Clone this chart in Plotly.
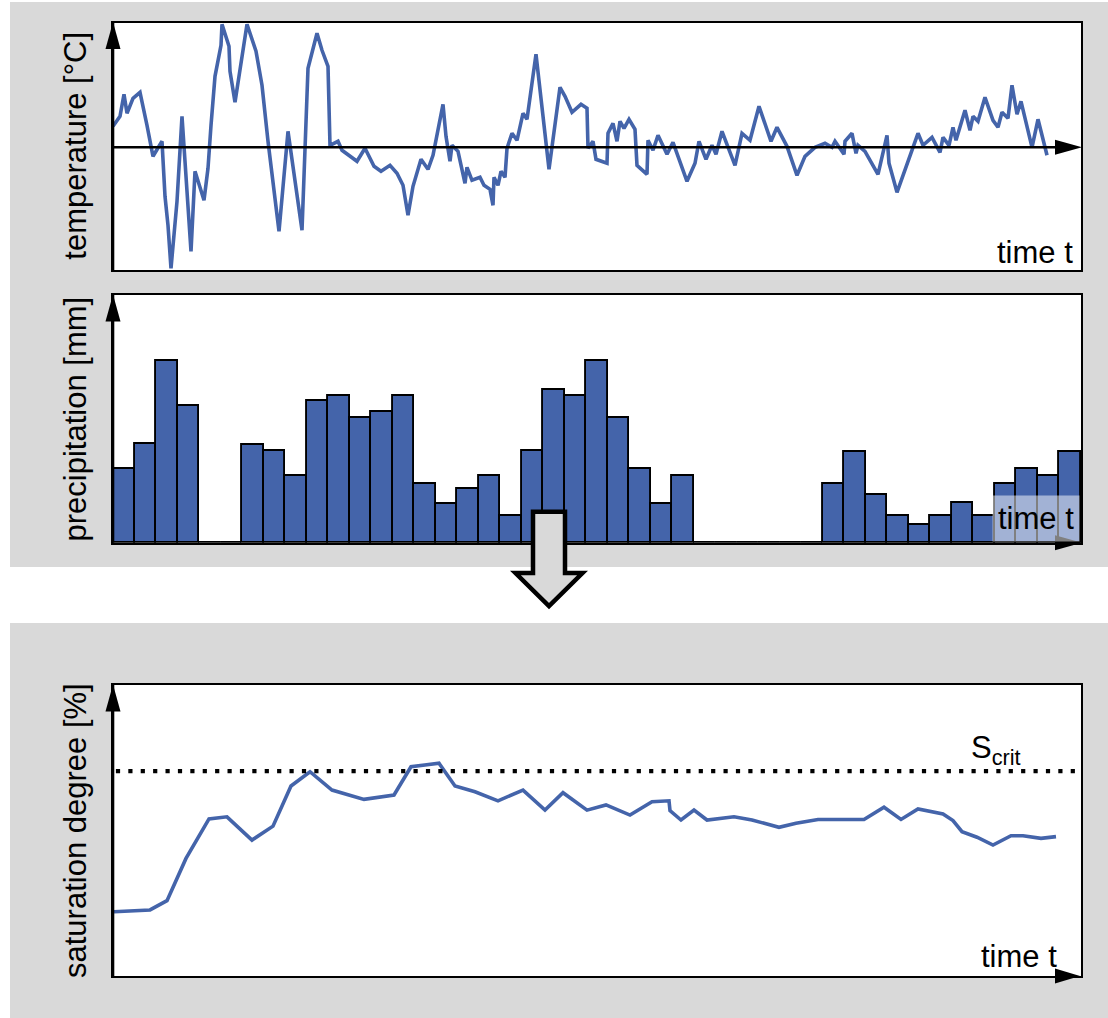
import plotly.graph_objects as go

W, H = 1108, 1018
BLUE = "#4464AA"
GRAY = "#d9d9d9"
FONT = "Liberation Sans, Arial, sans-serif"

# ---------------- data ----------------
temp_time = [0, 7, 11, 14, 20, 27, 34, 40, 49, 51,
             52, 55, 58, 64, 69, 78, 82, 91, 95, 98,
             102, 108, 109, 116, 117, 122, 134, 143, 149, 155,
             166, 175, 189, 195, 204, 209, 215, 217, 225, 229,
             244, 252, 261, 268, 277, 284, 290, 295, 300, 308,
             315, 320, 330, 333, 337, 339, 345, 352, 354, 359,
             367, 371, 377, 380, 381, 385, 388, 392, 394, 399,
             404, 410, 414, 423, 436, 447, 452, 459, 468, 474,
             475, 480, 483, 494, 495, 500, 504, 507, 511, 516,
             522, 524, 534, 535, 540, 545, 554, 560, 566, 574,
             582, 586, 593, 599, 603, 609, 622, 629, 637, 646,
             658, 664, 674, 684, 692, 702, 712, 719, 722, 731,
             732, 739, 743, 745, 752, 765, 774, 776, 784, 805,
             810, 819, 827, 830, 836, 840, 843, 852, 857, 860,
             865, 872, 880, 885, 889, 895, 899, 904, 908, 919,
             925, 934]
temp_value = [2.1, 3.1, 5.3, 3.4, 4.9, 5.5, 2.2, -0.9, 0.6, -2.8,
              -4.9, -7.8, -12.1, -5.4, 3.1, -10.4, -2.4, -5.3, -2.1, 2.2,
              7.1, 10.2, 12.3, 10.1, 7.6, 4.5, 12.3, 9.6, 6.2, 0.6,
              -8.4, 1.6, -8.3, 7.9, 11.4, 9.7, 8.1, 0.2, 0.6, -0.3,
              -1.4, -0.1, -1.9, -2.4, -1.8, -2.6, -3.8, -6.8, -3.9, -1.2,
              -2.2, -0.8, 4.3, 1.1, -1.4, 0.2, -0.4, -3.6, -2.0, -3.3,
              -3.0, -3.8, -4.2, -5.8, -3.0, -3.8, -2.4, -3.0, -0.1, 1.4,
              0.7, 3.4, 2.8, 9.3, -2.2, 6.0, 5.1, 3.5, 4.3, 3.9,
              -0.1, 0.6, -1.2, -1.6, 1.4, 2.4, 0.6, 2.6, 1.9, 2.8,
              1.8, -1.8, -2.7, 0.7, -0.3, 1.2, -0.7, 0.5, -1.2, -3.4,
              -1.6, 0.6, -1.2, 0.2, -0.7, 1.6, -1.8, 1.4, 0.7, 4.1,
              0.6, 2.0, 0.1, -2.8, -0.9, 0.0, 0.4, 0.0, 0.6, -0.7,
              0.6, 1.4, -0.6, 0.2, -0.4, -2.7, 1.2, -1.6, -4.5, 1.4,
              0.2, 1.0, -0.5, 1.0, 0.2, 2.0, 0.7, 3.7, 1.7, 3.1,
              2.6, 5.0, 2.7, 2.0, 3.5, 2.9, 6.2, 3.3, 4.6, 0.0,
              2.8, -0.8]

precip_interval = [1, 2, 3, 4, 5, 6, 7, 8, 9, 10,
                   11, 12, 13, 14, 15, 16, 17, 18, 19, 20,
                   21, 22, 23, 24, 25, 26, 27, 28, 29, 30,
                   31, 32, 33, 34, 35, 36, 37, 38, 39, 40,
                   41, 42, 43, 44, 45]
precip_mm = [7.4, 9.9, 18.2, 13.7, 0, 0, 9.8, 9.2, 6.7, 14.2,
             14.7, 12.5, 13.1, 14.7, 5.9, 3.9, 5.4, 6.7, 2.7, 9.2,
             15.3, 14.7, 18.2, 12.5, 7.4, 3.9, 6.7, 0, 0, 0,
             0, 0, 0, 5.9, 9.1, 4.8, 2.7, 1.8, 2.7, 4.0,
             2.7, 5.9, 7.4, 6.7, 9.1]

sat_time = [1, 37, 54, 73, 96, 114, 139, 160, 178, 197,
            219, 251, 281, 298, 326, 342, 362, 385, 410, 432,
            450, 474, 493, 517, 539, 556, 557, 568, 581, 594,
            621, 639, 666, 683, 705, 751, 771, 788, 805, 830,
            840, 849, 864, 880, 898, 910, 928, 943]
sat_value = [22.1, 22.7, 25.9, 40.4, 54.0, 54.7, 46.7, 51.5, 65.3, 70.2,
             63.9, 60.7, 62.2, 71.9, 73.1, 65.3, 63.3, 60.2, 63.9, 57.0,
             63.0, 57.0, 58.8, 55.3, 59.9, 60.2, 56.8, 53.6, 57.0, 53.6,
             54.7, 53.6, 51.1, 52.5, 53.8, 53.8, 58.0, 53.8, 57.4, 55.7,
             53.4, 49.6, 47.7, 45.0, 48.2, 48.2, 47.3, 47.9]
s_crit = 70.4

y_labels = ["temperature [°C]", "precipitation [mm]", "saturation degree [%]"]
x_label = "time t"
crit_label = "S<sub>crit</sub>"

# ---------------- layout geometry (pixels) ----------------
LEFT, RIGHT = 113, 1081
boxes = {"t": (22.5, 270), "p": (295, 542.7), "s": (685, 976)}


def fx(x):
    return x / W


def fy(y):
    return 1 - y / H


def P(x, y):
    return f"{fx(x):.5f},{fy(y):.5f}"


fig = go.Figure()
fig.add_trace(go.Scatter(x=temp_time, y=temp_value, mode="lines",
                         line=dict(color=BLUE, width=3.6),
                         xaxis="x", yaxis="y", hoverinfo="skip"))
fig.add_trace(go.Bar(x=precip_interval, y=precip_mm, width=1,
                     marker=dict(color=BLUE, line=dict(color="black", width=1.9)),
                     xaxis="x2", yaxis="y2", hoverinfo="skip"))
fig.add_trace(go.Scatter(x=sat_time, y=sat_value, mode="lines",
                         line=dict(color=BLUE, width=3.6),
                         xaxis="x3", yaxis="y3", hoverinfo="skip"))

ax_common = dict(showgrid=False, zeroline=False, showticklabels=False, ticks="",
                 showline=True, mirror=True, linecolor="black", linewidth=2,
                 fixedrange=True)
xdom = [fx(LEFT), fx(RIGHT)]

fig.update_layout(
    width=W, height=H,
    margin=dict(l=0, r=0, t=0, b=0),
    paper_bgcolor="white",
    plot_bgcolor="rgba(0,0,0,0)",
    showlegend=False,
    bargap=0,
    xaxis=dict(domain=xdom, range=[0, 968], anchor="y", **ax_common),
    yaxis=dict(domain=[fy(boxes["t"][1]), fy(boxes["t"][0])], range=[-12.27, 12.48],
               anchor="x", **ax_common),
    xaxis2=dict(domain=xdom, range=[0.5, 45.5], anchor="y2", **ax_common),
    yaxis2=dict(domain=[fy(boxes["p"][1]), fy(boxes["p"][0])], range=[0, 24.77],
                anchor="x2", **ax_common),
    xaxis3=dict(domain=xdom, range=[0, 968], anchor="y3", **ax_common),
    yaxis3=dict(domain=[fy(boxes["s"][1]), fy(boxes["s"][0])], range=[0, 100],
                anchor="x3", **ax_common),
)

shapes = []
# gray backgrounds
for (y0, y1) in [(2, 567), (623, 1018)]:
    shapes.append(dict(type="rect", xref="paper", yref="paper",
                       x0=fx(10), x1=1, y0=fy(y1), y1=fy(y0),
                       fillcolor=GRAY, line=dict(width=0), layer="below"))
# white plot areas
for k, (y0, y1) in boxes.items():
    shapes.append(dict(type="rect", xref="paper", yref="paper",
                       x0=fx(LEFT), x1=fx(RIGHT), y0=fy(y1), y1=fy(y0),
                       fillcolor="white", line=dict(width=0), layer="below"))

# zero line of temperature
shapes.append(dict(type="line", xref="paper", yref="y", x0=fx(LEFT), x1=fx(1058),
                   y0=0, y1=0, line=dict(color="black", width=2.6)))
# thicker left axis lines
for k, (y0, y1) in boxes.items():
    shapes.append(dict(type="line", xref="paper", yref="paper", x0=fx(LEFT), x1=fx(LEFT),
                       y0=fy(y1), y1=fy(y0), line=dict(color="black", width=2.6)))

# up arrows on y axes
for k, (y0, y1) in boxes.items():
    tip = y0 - 0.5
    shapes.append(dict(type="path", xref="paper", yref="paper",
                       path=f"M{P(LEFT, tip)} L{P(LEFT - 7.5, tip + 27)} L{P(LEFT + 7.5, tip + 27)} Z",
                       fillcolor="black", line=dict(width=0)))
# right arrows on time axes
for yc, tipx in [(147.3, 1082), (542.7, 1082), (976, 1080)]:
    shapes.append(dict(type="path", xref="paper", yref="paper",
                       path=f"M{P(tipx, yc)} L{P(1055, yc - 7.5)} L{P(1055, yc + 7.5)} Z",
                       fillcolor="black", line=dict(width=0)))

# S_crit dotted line
shapes.append(dict(type="line", xref="x3 domain", yref="y3", x0=0.003, x1=0.997,
                   y0=s_crit, y1=s_crit,
                   line=dict(color="black", width=4.2, dash="4.2px,8.2px")))

# hollow down arrow between panels
shapes.append(dict(type="path", xref="paper", yref="paper", layer="above",
                   path=(f"M{P(533, 511.7)} L{P(565, 511.7)} L{P(565, 573)} L{P(582.5, 573)} "
                         f"L{P(549, 606)} L{P(515.5, 573)} L{P(533, 573)} Z"),
                   fillcolor=GRAY, line=dict(color="black", width=4.5)))

fig.update_layout(shapes=shapes)

ann = []
for text, yc in zip(y_labels, [146.2, 419, 830.5]):
    ann.append(dict(text=text, xref="paper", yref="paper", x=fx(75.5), y=fy(yc),
                    xanchor="center", yanchor="middle", textangle=-90, showarrow=False,
                    font=dict(family=FONT, size=31, color="black")))
ann.append(dict(text=x_label, xref="paper", yref="paper", x=fx(1035.4), y=fy(252.6),
                xanchor="center", yanchor="middle", showarrow=False,
                font=dict(family=FONT, size=31, color="black")))
ann.append(dict(text=x_label, xref="paper", yref="paper", x=fx(1036), y=fy(518),
                xanchor="center", yanchor="middle", showarrow=False,
                bgcolor="rgba(255,255,255,0.5)", borderpad=5,
                font=dict(family=FONT, size=31, color="black")))
ann.append(dict(text=x_label, xref="paper", yref="paper", x=fx(1019), y=fy(956),
                xanchor="center", yanchor="middle", showarrow=False,
                font=dict(family=FONT, size=31, color="black")))
ann.append(dict(text=crit_label, xref="paper", yref="paper", x=fx(969), y=fy(749.5),
                xanchor="left", yanchor="middle", showarrow=False,
                font=dict(family=FONT, size=31, color="black")))
fig.update_layout(annotations=ann)

fig.write_html("out.html")
